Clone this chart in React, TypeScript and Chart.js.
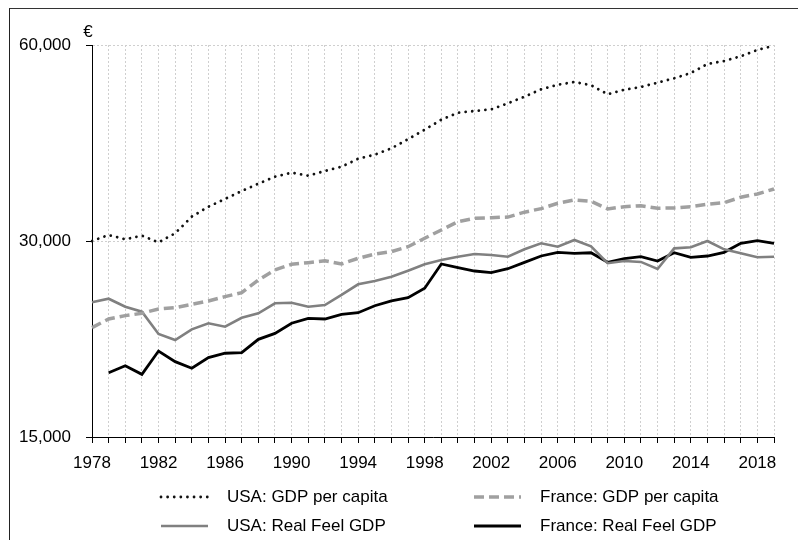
import React, { useEffect, useRef } from "react";
import { Chart, registerables } from "chart.js";

Chart.register(...registerables);

const years = [
  "1978", "1979", "1980", "1981", "1982", "1983", "1984", "1985", "1986", "1987",
  "1988", "1989", "1990", "1991", "1992", "1993", "1994", "1995", "1996", "1997",
  "1998", "1999", "2000", "2001", "2002", "2003", "2004", "2005", "2006", "2007",
  "2008", "2009", "2010", "2011", "2012", "2013", "2014", "2015", "2016", "2017",
  "2018", "2019",
];

const yTicks = [15000, 30000, 60000];

const usaGdpPerCapita = [
  30000, 30640, 30180, 30570, 29860, 30830, 32700, 33870, 34810, 35800,
  36740, 37660, 38200, 37790, 38430, 39010, 40130, 40710, 41640, 42990,
  44470, 46070, 47220, 47510, 47790, 48820, 49970, 51300, 52140, 52640,
  52050, 50400, 51220, 51720, 52510, 53330, 54340, 56100, 56700, 57650,
  58950, 59850,
];

const franceGdpPerCapita = [
  22080, 22770, 23040, 23230, 23590, 23700, 23980, 24270, 24640, 24990,
  26140, 27080, 27630, 27790, 27980, 27660, 28220, 28650, 28890, 29400,
  30290, 31190, 32130, 32510, 32580, 32650, 33220, 33640, 34280, 34690,
  34530, 33600, 33870, 33990, 33680, 33720, 33870, 34160, 34350, 35020,
  35430, 36060,
];

const usaRealFeel = [
  24150, 24460, 23780, 23360, 21590, 21140, 21950, 22430, 22160, 22870,
  23230, 24070, 24120, 23780, 23920, 24790, 25740, 26040, 26440, 27010,
  27630, 28050, 28380, 28650, 28550, 28380, 29130, 29760, 29400, 30110,
  29440, 27730, 27950, 27860, 27170, 29230, 29340, 30000, 29130, 28720,
  28320, 28380,
];

const franceRealFeel = [
  null, 18830, 19300, 18720, 20330, 19580, 19130, 19860, 20170, 20210,
  21190, 21640, 22430, 22820, 22770, 23150, 23280, 23860, 24270, 24550,
  25380, 27660, 27300, 26980, 26820, 27200, 27820, 28450, 28820, 28720,
  28780, 27820, 28180, 28380, 27950, 28780, 28320, 28450, 28820, 29760,
  30030, 29760,
];

const seriesNames = [
  "USA: GDP per capita",
  "France: GDP per capita",
  "USA: Real Feel GDP",
  "France: Real Feel GDP",
];

const FONT = '"Liberation Sans", Arial, sans-serif';

const customLegend = {
  id: "customLegend",
  afterDraw(chart: any) {
    const { ctx, chartArea } = chart;
    ctx.save();
    ctx.font = `17px ${FONT}`;
    ctx.fillStyle = "#000";
    ctx.textBaseline = "middle";
    ctx.textAlign = "center";
    ctx.fillText("€", chartArea.left - 4, chartArea.top - 13);

    const cols = [160, 473];
    const rows = [497, 526];
    const sampleW = 48;
    chart.data.datasets.forEach((ds: any, i: number) => {
      const x = cols[i % 2];
      const y = rows[Math.floor(i / 2)];
      ctx.save();
      ctx.strokeStyle = ds.borderColor;
      ctx.lineWidth = ds.borderWidth;
      ctx.lineCap = ds.borderCapStyle || "butt";
      ctx.setLineDash(ds.borderDash || []);
      ctx.beginPath();
      ctx.moveTo(x + 1, y);
      ctx.lineTo(x + sampleW, y);
      ctx.stroke();
      ctx.restore();
      ctx.textAlign = "left";
      ctx.fillStyle = "#000";
      ctx.fillText(ds.label, x + sampleW + 19, y);
    });
    ctx.restore();
  },
};

export default function App() {
  const ref = useRef<HTMLCanvasElement | null>(null);

  useEffect(() => {
    if (!ref.current) return;
    const chart = new Chart(ref.current, {
      type: "line",
      data: {
        labels: years,
        datasets: [
          {
            label: seriesNames[0],
            data: usaGdpPerCapita,
            borderColor: "#111111",
            borderWidth: 2.8,
            borderDash: [0.01, 6.6],
            borderCapStyle: "round",
            pointRadius: 0,
            tension: 0,
            fill: false,
          },
          {
            label: seriesNames[1],
            data: franceGdpPerCapita,
            borderColor: "#a0a0a0",
            borderWidth: 3.5,
            borderDash: [10, 5],
            borderCapStyle: "butt",
            pointRadius: 0,
            tension: 0,
            fill: false,
          },
          {
            label: seriesNames[2],
            data: usaRealFeel,
            borderColor: "#808080",
            borderWidth: 2.6,
            pointRadius: 0,
            tension: 0,
            fill: false,
          },
          {
            label: seriesNames[3],
            data: franceRealFeel,
            borderColor: "#000000",
            borderWidth: 2.8,
            pointRadius: 0,
            tension: 0,
            fill: false,
          },
        ],
      },
      options: {
        responsive: false,
        animation: false,
        devicePixelRatio: 1,
        layout: { padding: { left: 0, right: 24, top: 45, bottom: 0 } },
        plugins: {
          legend: { display: false },
          tooltip: { enabled: false },
        },
        scales: {
          x: {
            type: "category",
            offset: false,
            afterFit: (scale: any) => {
              scale.height = 103;
            },
            grid: {
              display: true,
              color: "#cfcfcf",
              lineWidth: 1,
              tickLength: 6,
              tickColor: "#000",
              tickBorderDash: [],
              tickWidth: 1,
            },
            border: { display: true, color: "#000", width: 1, dash: [2, 2] },
            ticks: {
              autoSkip: false,
              maxRotation: 0,
              minRotation: 0,
              padding: 10,
              color: "#000",
              font: { family: FONT, size: 17 },
              callback: (_v: any, idx: number) =>
                idx % 4 === 0 ? years[idx] : "",
            },
          },
          y: {
            type: "logarithmic",
            min: 15000,
            max: 60000,
            afterFit: (scale: any) => {
              scale.width = 92;
            },
            afterBuildTicks: (scale: any) => {
              scale.ticks = yTicks.map((v) => ({ value: v }));
            },
            grid: {
              display: true,
              color: "#cfcfcf",
              lineWidth: 1,
              tickLength: 6,
              tickColor: "#000",
              tickBorderDash: [],
              tickWidth: 1,
            },
            border: { display: true, color: "#000", width: 1, dash: [2, 2] },
            ticks: {
              padding: 15,
              color: "#000",
              font: { family: FONT, size: 17 },
              callback: (v: any) => Number(v).toLocaleString("en-US"),
            },
          },
        },
      },
      plugins: [customLegend],
    } as any);
    return () => chart.destroy();
  }, []);

  return (
    <div
      style={{
        position: "fixed",
        left: 0,
        top: 0,
        width: 798,
        height: 540,
        overflow: "hidden",
        background: "#fff",
      }}
    >
      <div
        style={{
          position: "absolute",
          left: 9,
          top: 8,
          width: 820,
          height: 560,
          borderLeft: "1px solid #222",
          borderTop: "1px solid #333",
        }}
      />
      <canvas
        ref={ref}
        width={798}
        height={540}
        style={{ position: "absolute", left: 0, top: 0, width: 798, height: 540 }}
      />
    </div>
  );
}
